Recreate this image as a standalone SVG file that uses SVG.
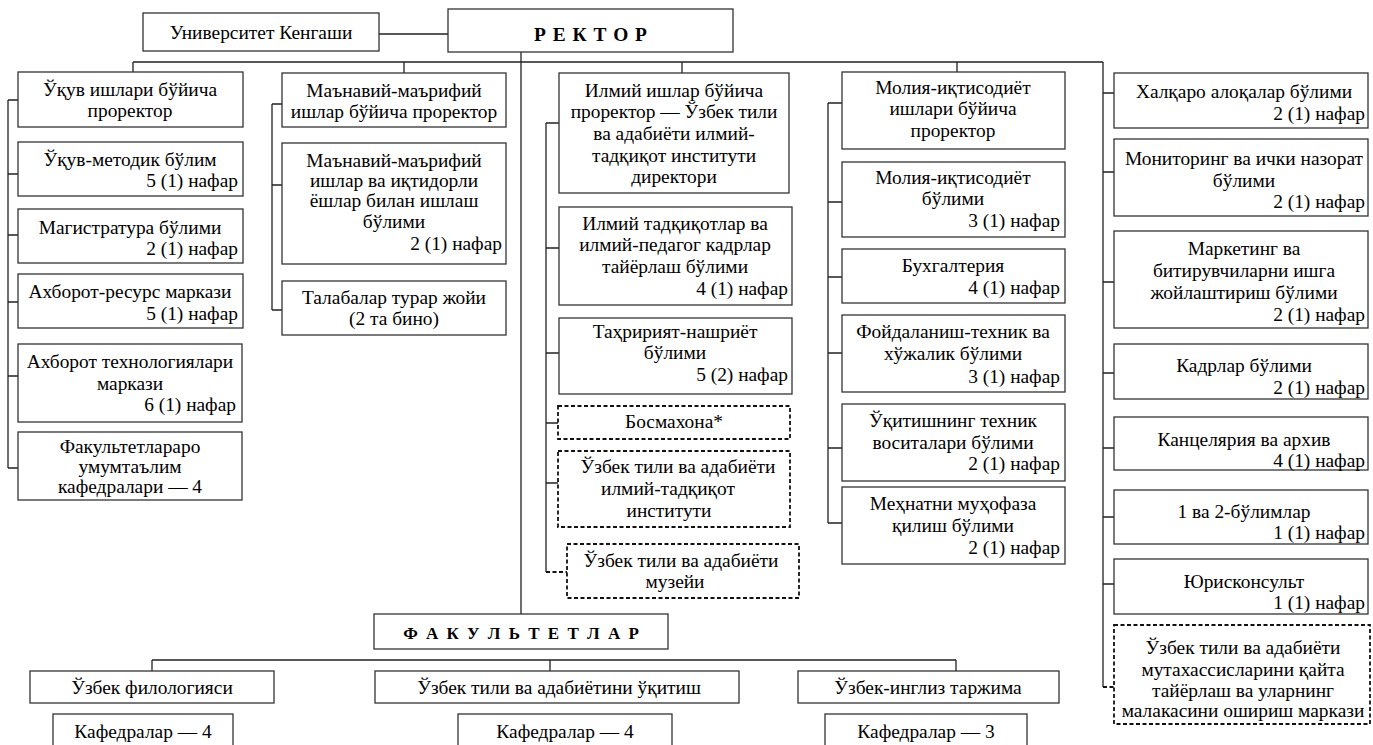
<svg xmlns="http://www.w3.org/2000/svg" width="1373" height="745" viewBox="0 0 1373 745">
<style>
.b{fill:#fff;stroke:#333;stroke-width:1.3}
.d{fill:#fff;stroke:#111;stroke-width:1.8;stroke-dasharray:4 2.5}
.t{font-family:"Liberation Serif","Times New Roman",serif;font-size:19.4px;fill:#000}
.c{text-anchor:middle}
.r{text-anchor:end}
.h{font-weight:bold;letter-spacing:1px}
.ln{stroke:#222;stroke-width:1.3;fill:none}
.ld{stroke:#111;stroke-width:1.8;fill:none;stroke-dasharray:4 2.5}
</style>
<rect width="1373" height="745" fill="#fff"/>
<g id="connectors">
<path class="ln" d="M379 34H448M521 52V614M133 62H1103M133 62V72M404 62V73M682 62V73M957 62V72M1103 62V687"/>
<path class="ln" d="M8 100V468M8 100H18M8 174H18M8 235H18M8 302H18M8 376H18M8 468H18"/>
<path class="ln" d="M272 104V310M272 104H282M272 185H282M272 310H282"/>
<path class="ln" d="M546 123V572M546 123H559M546 248H559M546 353H559M546 423H558M546 483H558"/>
<path class="ld" d="M546 572H567"/>
<path class="ln" d="M828 103V523M828 103H842M828 202H842M828 277H842M828 353H842M828 448H842M828 523H842"/>
<path class="ln" d="M1103 93H1114M1103 172H1114M1103 282H1114M1103 373H1114M1103 448H1114M1103 517H1114M1103 584H1114"/>
<path class="ld" d="M1103 687H1114"/>
<path class="ln" d="M152 660H956M152 660V671M550 660V671M956 660V671"/>
</g>
<g id="kengash"><rect class="b" x="143" y="13" width="236" height="38"/><text class="t c" x="261" y="39">Университет Кенгаши</text></g>
<g id="rector"><rect class="b" x="448" y="9" width="285" height="43"/><text class="t c h" x="591" y="41">Р Е К Т О Р</text></g>
<g id="c1b1"><rect class="b" x="18" y="72" width="225" height="55"/><text class="t c" x="130" y="96">Ўқув ишлари бўйича</text><text class="t c" x="130" y="117">проректор</text></g>
<g id="c1b2"><rect class="b" x="18" y="142" width="225" height="54"/><text class="t c" x="130" y="166">Ўқув-методик бўлим</text><text class="t r" x="238" y="187">5 (1) нафар</text></g>
<g id="c1b3"><rect class="b" x="18" y="209" width="225" height="54"/><text class="t c" x="130" y="234">Магистратура бўлими</text><text class="t r" x="238" y="255">2 (1) нафар</text></g>
<g id="c1b4"><rect class="b" x="18" y="274" width="225" height="54"/><text class="t c" x="130" y="298">Ахборот-ресурс маркази</text><text class="t r" x="238" y="320">5 (1) нафар</text></g>
<g id="c1b5"><rect class="b" x="18" y="344" width="224" height="78"/><text class="t c" x="130" y="368">Ахборот технологиялари</text><text class="t c" x="130" y="390">маркази</text><text class="t r" x="236" y="411">6 (1) нафар</text></g>
<g id="c1b6"><rect class="b" x="18" y="432" width="224" height="68"/><text class="t c" x="130" y="453">Факультетлараро</text><text class="t c" x="130" y="473">умумтаълим</text><text class="t c" x="130" y="493">кафедралари — 4</text></g>
<g id="c2b1"><rect class="b" x="282" y="73" width="224" height="54"/><text class="t c" x="394" y="97">Маънавий-маърифий</text><text class="t c" x="394" y="118">ишлар бўйича проректор</text></g>
<g id="c2b2"><rect class="b" x="282" y="143" width="224" height="121"/><text class="t c" x="394" y="167">Маънавий-маърифий</text><text class="t c" x="394" y="187">ишлар ва иқтидорли</text><text class="t c" x="394" y="207">ёшлар билан ишлаш</text><text class="t c" x="394" y="228">бўлими</text><text class="t r" x="502" y="250">2 (1) нафар</text></g>
<g id="c2b3"><rect class="b" x="282" y="281" width="224" height="54"/><text class="t c" x="394" y="304">Талабалар турар жойи</text><text class="t c" x="394" y="325">(2 та бино)</text></g>
<g id="c3b1"><rect class="b" x="559" y="73" width="230" height="120"/><text class="t c" x="674" y="97">Илмий ишлар бўйича</text><text class="t c" x="674" y="118">проректор — Ўзбек тили</text><text class="t c" x="674" y="140">ва адабиёти илмий-</text><text class="t c" x="674" y="162">тадқиқот институти</text><text class="t c" x="674" y="183">директори</text></g>
<g id="c3b2"><rect class="b" x="559" y="207" width="233" height="98"/><text class="t c" x="675" y="230">Илмий тадқиқотлар ва</text><text class="t c" x="675" y="251">илмий-педагог кадрлар</text><text class="t c" x="675" y="273">тайёрлаш бўлими</text><text class="t r" x="788" y="295">4 (1) нафар</text></g>
<g id="c3b3"><rect class="b" x="559" y="318" width="233" height="76"/><text class="t c" x="675" y="338">Таҳририят-нашриёт</text><text class="t c" x="675" y="359">бўлими</text><text class="t r" x="788" y="381">5 (2) нафар</text></g>
<g id="c3b4"><rect class="d" x="558" y="406" width="232" height="33"/><text class="t c" x="674" y="428">Босмахона*</text></g>
<g id="c3b5"><rect class="d" x="558" y="451" width="232" height="76"/><text class="t c" x="678" y="473">Ўзбек тили ва адабиёти</text><text class="t c" x="668" y="495">илмий-тадқиқот</text><text class="t c" x="669" y="517">институти</text></g>
<g id="c3b6"><rect class="d" x="567" y="544" width="232" height="54"/><text class="t c" x="681" y="567">Ўзбек тили ва адабиёти</text><text class="t c" x="675" y="588">музейи</text></g>
<g id="c4b1"><rect class="b" x="842" y="72" width="223" height="77"/><text class="t c" x="953" y="94">Молия-иқтисодиёт</text><text class="t c" x="953" y="115">ишлари бўйича</text><text class="t c" x="953" y="137">проректор</text></g>
<g id="c4b2"><rect class="b" x="842" y="162" width="223" height="75"/><text class="t c" x="953" y="184">Молия-иқтисодиёт</text><text class="t c" x="953" y="205">бўлими</text><text class="t r" x="1060" y="227">3 (1) нафар</text></g>
<g id="c4b3"><rect class="b" x="842" y="249" width="223" height="54"/><text class="t c" x="953" y="272">Бухгалтерия</text><text class="t r" x="1060" y="294">4 (1) нафар</text></g>
<g id="c4b4"><rect class="b" x="842" y="315" width="223" height="77"/><text class="t c" x="953" y="338">Фойдаланиш-техник ва</text><text class="t c" x="953" y="360">хўжалик бўлими</text><text class="t r" x="1060" y="383">3 (1) нафар</text></g>
<g id="c4b5"><rect class="b" x="842" y="404" width="223" height="77"/><text class="t c" x="953" y="427">Ўқитишнинг техник</text><text class="t c" x="953" y="449">воситалари бўлими</text><text class="t r" x="1060" y="470">2 (1) нафар</text></g>
<g id="c4b6"><rect class="b" x="842" y="487" width="223" height="77"/><text class="t c" x="953" y="510">Меҳнатни муҳофаза</text><text class="t c" x="953" y="532">қилиш бўлими</text><text class="t r" x="1060" y="554">2 (1) нафар</text></g>
<g id="c5b1"><rect class="b" x="1114" y="73" width="254" height="55"/><text class="t c" x="1244" y="98">Халқаро алоқалар бўлими</text><text class="t r" x="1365" y="120">2 (1) нафар</text></g>
<g id="c5b2"><rect class="b" x="1114" y="139" width="254" height="77"/><text class="t c" x="1244" y="165">Мониторинг ва ички назорат</text><text class="t c" x="1244" y="187">бўлими</text><text class="t r" x="1365" y="208">2 (1) нафар</text></g>
<g id="c5b3"><rect class="b" x="1114" y="231" width="254" height="97"/><text class="t c" x="1244" y="255">Маркетинг ва</text><text class="t c" x="1244" y="277">битирувчиларни ишга</text><text class="t c" x="1244" y="299">жойлаштириш бўлими</text><text class="t r" x="1365" y="321">2 (1) нафар</text></g>
<g id="c5b4"><rect class="b" x="1114" y="344" width="254" height="55"/><text class="t c" x="1244" y="372">Кадрлар бўлими</text><text class="t r" x="1365" y="394">2 (1) нафар</text></g>
<g id="c5b5"><rect class="b" x="1114" y="417" width="254" height="53"/><text class="t c" x="1244" y="446">Канцелярия ва архив</text><text class="t r" x="1365" y="467">4 (1) нафар</text></g>
<g id="c5b6"><rect class="b" x="1114" y="490" width="254" height="54"/><text class="t c" x="1244" y="518">1 ва 2-бўлимлар</text><text class="t r" x="1365" y="539">1 (1) нафар</text></g>
<g id="c5b7"><rect class="b" x="1114" y="559" width="254" height="55"/><text class="t c" x="1244" y="588">Юрисконсульт</text><text class="t r" x="1365" y="609">1 (1) нафар</text></g>
<g id="c5b8"><rect class="d" x="1114" y="625" width="256" height="99"/><text class="t c" x="1243" y="654">Ўзбек тили ва адабиёти</text><text class="t c" x="1243" y="676">мутахассисларини қайта</text><text class="t c" x="1243" y="697">тайёрлаш ва уларнинг</text><text class="t c" x="1243" y="717">малакасини ошириш маркази</text></g>
<g id="faculties"><rect class="b" x="374" y="614" width="294" height="35"/><text class="t c h" x="522" y="639" style="font-size:17px;letter-spacing:2px">Ф А К У Л Ь Т Е Т Л А Р</text></g>
<g id="f1"><rect class="b" x="30" y="671" width="244" height="32"/><text class="t c" x="152" y="694">Ўзбек филологияси</text></g>
<g id="f1k"><rect class="b" x="53" y="714" width="180" height="40"/><text class="t c" x="143" y="738">Кафедралар — 4</text></g>
<g id="f2"><rect class="b" x="375" y="671" width="364" height="32"/><text class="t c" x="559" y="694">Ўзбек тили ва адабиётини ўқитиш</text></g>
<g id="f2k"><rect class="b" x="458" y="714" width="214" height="40"/><text class="t c" x="565" y="738">Кафедралар — 4</text></g>
<g id="f3"><rect class="b" x="798" y="671" width="261" height="32"/><text class="t c" x="928" y="694">Ўзбек-инглиз таржима</text></g>
<g id="f3k"><rect class="b" x="825" y="714" width="202" height="40"/><text class="t c" x="926" y="738">Кафедралар — 3</text></g>
</svg>
